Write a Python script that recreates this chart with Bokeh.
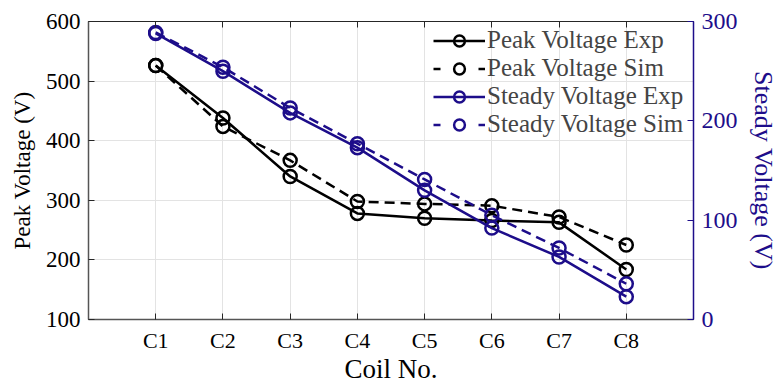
from bokeh.plotting import figure
from bokeh.models import Range1d, LinearAxis, FixedTicker, Legend, LegendItem
from bokeh.embed import file_html
from bokeh.resources import INLINE

coils = ["C1", "C2", "C3", "C4", "C5", "C6", "C7", "C8"]
coil_pos = [1, 2, 3, 4, 5, 6, 7, 8]
peak_exp = [526, 438, 340, 278, 270, 266, 263, 184]
peak_sim = [526, 424, 367, 298, 294, 291, 272, 225]
steady_exp = [288, 250, 208, 173, 130, 92, 63, 23]
steady_sim = [289, 254, 213, 177, 141, 105, 72, 36]
left_ticks = [100, 200, 300, 400, 500, 600]
right_ticks = [0, 100, 200, 300]
series_labels = ["Peak Voltage Exp", "Peak Voltage Sim", "Steady Voltage Exp", "Steady Voltage Sim"]

NAVY = "#1d0d8a"
AX = "#555555"
FONT = "Liberation Serif"

p = figure(width=780, height=386, output_backend="svg", toolbar_location=None,
           x_range=Range1d(0, 9), y_range=Range1d(100, 600),
           min_border_left=88, min_border_right=83, min_border_top=21, min_border_bottom=67)
p.extra_y_ranges = {"steady": Range1d(0, 300)}
p.outline_line_color = "#262626"
p.outline_line_width = 1

# axes
p.xaxis.ticker = FixedTicker(ticks=coil_pos)
p.xaxis.major_label_overrides = {i: c for i, c in zip(coil_pos, coils)}
p.yaxis.ticker = FixedTicker(ticks=left_ticks)
p.xaxis.axis_label = "Coil No."
p.yaxis.axis_label = "Peak Voltage (V)"
for ax in [p.xaxis[0], p.yaxis[0]]:
    ax.major_tick_in = 6
    ax.major_tick_out = 0
    ax.minor_tick_line_color = None
    ax.axis_line_color = AX
    ax.axis_line_width = 1.5
    ax.major_tick_line_color = "#262626"
    ax.major_label_text_font = FONT
    ax.major_label_text_color = "black"
    ax.axis_label_text_font = FONT
    ax.axis_label_text_font_style = "normal"
    ax.axis_label_text_color = "black"
p.xaxis.major_label_text_font_size = "22px"
p.yaxis.major_label_text_font_size = "23px"
p.xaxis.axis_label_text_font_size = "27px"
p.yaxis.axis_label_text_font_size = "23px"
p.xaxis.major_label_standoff = 8
p.xaxis.axis_label_standoff = -2
p.yaxis.major_label_standoff = 8
p.yaxis.axis_label_standoff = 8

top = LinearAxis(ticker=FixedTicker(ticks=coil_pos), major_tick_in=6, major_tick_out=0,
                 minor_tick_line_color=None, axis_line_color="#262626",
                 major_tick_line_color="#262626",
                 major_label_overrides={i: "" for i in coil_pos},
                 major_label_text_font_size="8px", major_label_standoff=0)
p.add_layout(top, "above")

right = LinearAxis(y_range_name="steady", ticker=FixedTicker(ticks=right_ticks),
                   axis_label="Steady Voltage (V)")
right.major_tick_in = 6
right.major_tick_out = 0
right.minor_tick_line_color = None
right.axis_line_color = NAVY
right.axis_line_width = 1.5
right.major_tick_line_color = NAVY
right.major_label_text_font = FONT
right.major_label_text_font_size = "24px"
right.major_label_text_color = NAVY
right.major_label_standoff = 8
right.axis_label_text_font = FONT
right.axis_label_text_font_size = "26px"
right.axis_label_text_font_style = "normal"
right.axis_label_text_color = NAVY
right.axis_label_standoff = 8
p.add_layout(right, "right")

# grid
p.xgrid.ticker = FixedTicker(ticks=coil_pos)
p.ygrid.ticker = FixedTicker(ticks=left_ticks)
p.xgrid.grid_line_color = "#e3e3e3"
p.ygrid.grid_line_color = "#e3e3e3"

LW = 2.5
MS = 13
DASH = "10 6"
p.line(coil_pos, peak_exp, line_color="black", line_width=LW)
p.scatter(coil_pos, peak_exp, size=MS, fill_color=None, line_color="black", line_width=LW)
p.line(coil_pos, peak_sim, line_color="black", line_width=LW, line_dash=DASH)
p.scatter(coil_pos, peak_sim, size=MS, fill_color=None, line_color="black", line_width=LW)
p.line(coil_pos, steady_exp, line_color=NAVY, line_width=LW, y_range_name="steady")
p.scatter(coil_pos, steady_exp, size=MS, fill_color=None, line_color=NAVY, line_width=LW,
          y_range_name="steady")
p.line(coil_pos, steady_sim, line_color=NAVY, line_width=LW, line_dash=DASH,
       y_range_name="steady")
p.scatter(coil_pos, steady_sim, size=MS, fill_color=None, line_color=NAVY, line_width=LW,
          y_range_name="steady")

# legend proxies: hidden copies with a smaller marker and the legend dash style
items = []
for lab, col, dash, ys, rn in zip(series_labels, ["black", "black", NAVY, NAVY],
                                  ["solid", "7 38", "solid", "7 38"],
                                  [peak_exp, peak_sim, steady_exp, steady_sim],
                                  ["default", "default", "steady", "steady"]):
    lr = p.line(coil_pos, ys, line_color=col, line_width=LW, line_dash=dash,
                y_range_name=rn, visible=False)
    sr = p.scatter(coil_pos, ys, size=9, fill_color=None, line_color=col, line_width=2.5,
                   y_range_name=rn, visible=False)
    items.append(LegendItem(label=lab, renderers=[lr, sr]))

legend = Legend(items=items, location=(345, 181))
legend.background_fill_alpha = 0
legend.border_line_alpha = 0
legend.inactive_fill_alpha = 0
legend.label_text_font = FONT
legend.label_text_font_size = "25px"
legend.label_height = 27
legend.glyph_height = 27
legend.glyph_width = 52
legend.label_standoff = 2
legend.spacing = 0
legend.padding = 0
legend.margin = 0
p.add_layout(legend, "center")

open("out.html", "w").write(file_html(p, INLINE))
